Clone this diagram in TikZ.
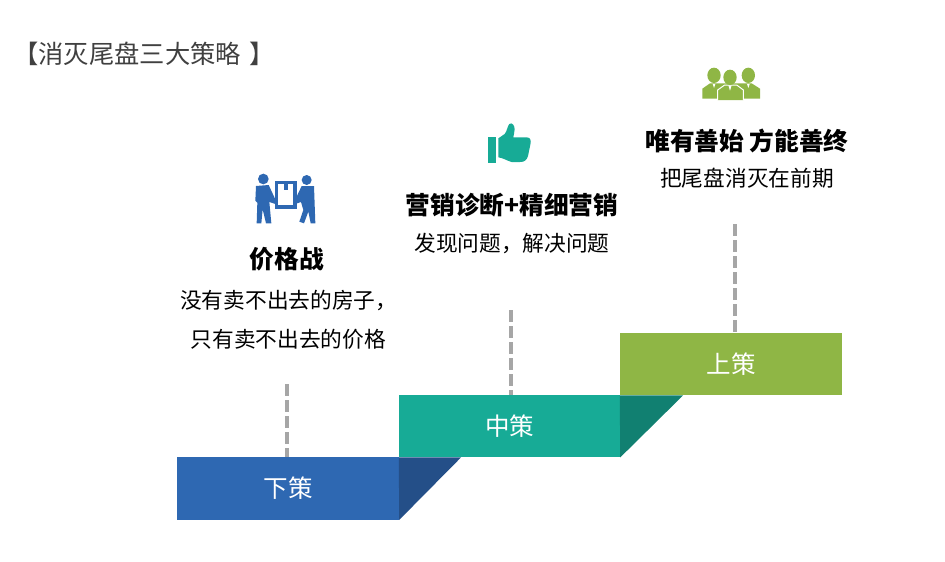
\documentclass[tikz,border=0pt]{standalone}
\usepackage{fontspec}
\setmainfont{Noto Sans CJK SC}
\usetikzlibrary{calc}
\definecolor{StepBlue}{HTML}{2E68B2}
\definecolor{StepBlueDark}{HTML}{244F88}
\definecolor{StepTeal}{HTML}{17AB96}
\definecolor{StepTealDark}{HTML}{118071}
\definecolor{StepOlive}{HTML}{8FB645}
\newcommand{\bodysize}{\fontsize{21.7}{25}\selectfont}
\newcommand{\headsize}{\fontsize{24.7}{28}\selectfont\bfseries}
\tikzset{
  stepbox/.style={inner sep=0pt,minimum width=222pt,minimum height=62.5pt,text=white,
    font=\fontsize{24.5}{28}\selectfont},
  headline/.style={inner sep=0pt,font=\headsize},
  bodyline/.style={inner sep=0pt,font=\bodysize},
  stem/.style={draw=gray!70,line width=4pt,dash pattern=on 12pt off 4pt},
}
\tikzset{movers/.pic={ %{{{
  \begin{scope}[shift={(-45,-35)},scale=1/3]
    \fill[StepBlue] (70,57) circle[radius=16];
    \fill[StepBlue] (200,60) circle[radius=15];
    \fill[StepBlue] (48,78) -- (86,75) -- (106,118) -- (106,132) -- (88,126) -- (94,190)
      -- (78,190) -- (68,148) -- (64,190) -- (50,190) -- (52,128) -- (46,122) -- cycle;
    \fill[StepBlue] (222,78) -- (185,78) -- (165,120) -- (165,132) -- (183,126) -- (190,150)
      -- (178,185) -- (192,190) -- (205,155) -- (212,190) -- (226,190) -- cycle;
    \fill[StepBlue] (105,63) rectangle (170,146);
    \fill[white] (115,72) rectangle (160,136);
    \fill[StepBlue] (132,72) rectangle (145,90);
  \end{scope}
}}
%}}}
\tikzset{thumb/.pic={ %{{{
  \begin{scope}[shift={(-40,-30)},scale=1/3]
    \fill[StepTeal] (55,80) rectangle (78,158);
    \fill[StepTeal] (85,85) -- (104,72) .. controls (112,62) and (112,48) .. (118,42)
      .. controls (126,36) and (134,46) .. (134,58) .. controls (134,68) and (130,76) .. (130,82)
      -- (170,82) .. controls (182,82) and (184,92) .. (181,104) -- (174,138)
      .. controls (170,152) and (162,156) .. (150,156) -- (125,156)
      .. controls (110,152) and (100,144) .. (85,142) -- cycle;
  \end{scope}
}}
%}}}
\tikzset{staff/.pic={ %{{{
  \begin{scope}[shift={(-40,-25)},scale=1/3]
    \fill[StepOlive] (72,46) ellipse[x radius=20,y radius=23];
    \fill[StepOlive] (175,46) ellipse[x radius=20,y radius=23];
    \fill[StepOlive] (37,116) -- (37,86) -- (60,70) -- (85,70) -- (158,70) -- (185,70)
      -- (210,86) -- (210,116) -- cycle;
    \draw[white,line width=1pt,fill=StepOlive] (83,120) -- (83,90) -- (104,75) -- (140,75)
      -- (160,90) -- (160,120);
    \fill[StepOlive] (120,52) ellipse[x radius=20,y radius=23];
    \fill[white] (115,76) -- (125,76) -- (120,92) -- cycle;
    \fill[white] (68,72) -- (76,72) -- (72,84) -- cycle;
    \fill[white] (171,72) -- (179,72) -- (175,84) -- cycle;
  \end{scope}
}}
%}}}
\begin{document}
\begin{tikzpicture}[x=1pt,y=-1pt]
  \useasboundingbox (0,0) rectangle (945,562);

  \node[anchor=west,inner sep=0pt,text=black!75,font=\fontsize{25.3}{29}\selectfont] (title)
    at (13,54) {【消灭尾盘三大策略 \hspace{3pt}】};

  % Steps {{{
  \node[stepbox,fill=StepBlue] (low) at (288,488.5) {下策};
  \node[stepbox,fill=StepTeal,minimum width=221pt] (mid) at (509.5,426) {中策};
  \node[stepbox,fill=StepOlive] (high) at (731,364) {上策};
  \fill[StepBlueDark] (mid.south west) -- (mid.south west -| 461,0) -- (low.south east) -- cycle;
  \fill[StepTealDark] (high.south west) -- (high.south west -| 683,0) -- (mid.south east) -- cycle;
  % }}}

  % Stems {{{
  \coordinate (lowtop) at (287,384);
  \coordinate (midtop) at (511,310);
  \coordinate (hightop) at (735,224);
  \draw[stem] (lowtop) -- (lowtop |- low.north);
  \draw[stem] (midtop) -- (midtop |- mid.north);
  \draw[stem] (hightop) -- (hightop |- high.north);
  % }}}

  % Texts {{{
  \node[headline] (lowhead) at (287,259) {价格战};
  \node[bodyline,anchor=west] (lowone) at (180,300.5) {没有卖不出去的房子，};
  \node[bodyline,anchor=west] (lowtwo) at (190.5,339.5) {只有卖不出去的价格};
  \node[headline] (midhead) at (512,205) {营销诊断+精细营销};
  \node[bodyline] (midone) at (512,243.5) {发现问题，解决问题};
  \node[headline] (highhead) at (747,141) {唯有善始 方能善终};
  \node[bodyline] (highone) at (747,178.5) {把尾盘消灭在前期};
  % }}}

  \pic at (285,195) {movers};
  \pic at (510,140) {thumb};
  \pic at (730,85) {staff};
\end{tikzpicture}
\end{document}
